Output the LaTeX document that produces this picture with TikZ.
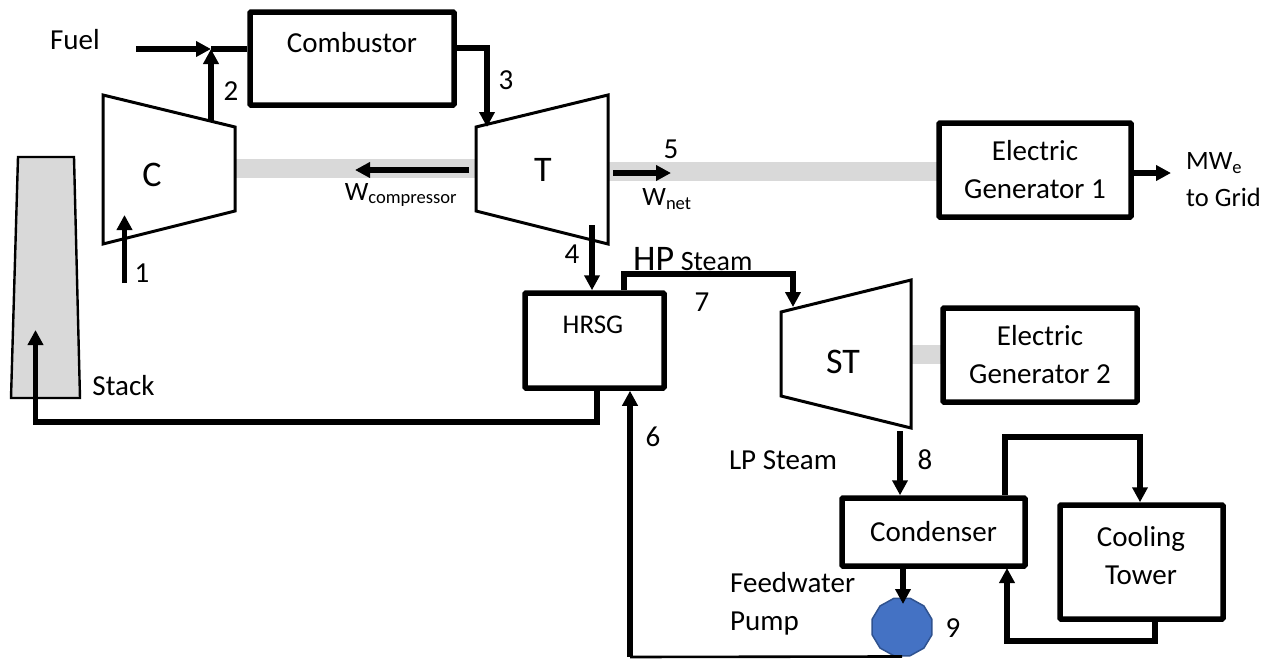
\documentclass[tikz,border=0pt]{standalone}
\usepackage{fontspec}
\setmainfont{Carlito}
\usetikzlibrary{arrows.meta,shapes.geometric}
\definecolor{shaftgray}{HTML}{D9D9D9}
\definecolor{pumpblue}{HTML}{4472C4}
\definecolor{pumpedge}{HTML}{2F528F}
\tikzset{
    unit/.style={
    rectangle,rounded corners=1pt,draw=black,line width=5.5pt,fill=white,align=center,inner sep=0pt,
    font=\fontsize{29}{38}\selectfont
    },
    machine/.style={
    draw=black,line width=3pt,fill=white,line join=miter
    },
    shaft/.style={
    draw=none,fill=shaftgray
    },
    flow/.style={
    draw=black,line width=5.4pt
    },
    lab/.style={
    inner sep=0pt,align=left,font=\fontsize{29}{38}\selectfont
    },
    sublab/.style={
    inner sep=0pt,font=\fontsize{26.5}{38}\selectfont
    },
    biglab/.style={
    inner sep=0pt,font=\fontsize{36}{40}\selectfont
    },
}
\begin{document}
\begin{tikzpicture}[x=1pt,y=-1pt,>={Triangle[length=15pt,width=15pt]}]
   \useasboundingbox (0,0) rectangle (1271,659);

   \fill[shaft] (235,159) rectangle (478,178);
   \fill[shaft] (608,162) rectangle (940,181);
   \fill[shaft] (911,345) rectangle (944,364);

   \draw[machine,fill=shaftgray,line width=2.4pt] (18,157) -- (74,157) -- (80,398) -- (11,398) -- cycle;
   \draw[machine] (103,95) -- (235,127) -- (235,211) -- (103,244) -- cycle;
   \draw[machine] (476,127) -- (608,95) -- (608,244) -- (476,211) -- cycle;
   \draw[machine] (781,312) -- (911,280) -- (911,428) -- (781,396) -- cycle;

   \node[unit,minimum width=204pt,minimum height=93pt] (cmb) at (352,58.5) {};
   \node[unit,minimum width=192pt,minimum height=94pt] (gen1) at (1035,170) {Electric\\Generator 1};
   \node[unit,minimum width=194pt,minimum height=94pt] (gen2) at (1040,355) {Electric\\Generator 2};
   \node[unit,minimum width=139pt,minimum height=95pt] (hrsg) at (594.5,340.5) {};
   \node[unit,minimum width=183pt,minimum height=68pt] (cnd) at (933.5,532) {Condenser};
   \node[unit,minimum width=163pt,minimum height=114pt] (twr) at (1141.5,562) {};
   \node[regular polygon,regular polygon sides=12,draw=pumpedge,line width=1.5pt,fill=pumpblue,
         minimum width=62pt,inner sep=0pt,yscale=0.96] (pmp) at (902,627) {};

   \coordinate (fuel) at (136,49);
   \coordinate (mix) at (211,49);
   \coordinate (c2) at (211,122);
   \coordinate (c3) at (487,127);
   \coordinate (c1) at (124.5,283);
   \coordinate (c1e) at (124.5,215);
   \coordinate (c4) at (592,225);
   \coordinate (wcs) at (469,170);
   \coordinate (wce) at (355,170);
   \coordinate (wns) at (613,173);
   \coordinate (wne) at (671,173);
   \coordinate (grid) at (1171,173);
   \coordinate (c7a) at (624,274);
   \coordinate (c7b) at (793,274);
   \coordinate (c7e) at (793,307);
   \coordinate (stka) at (597,422);
   \coordinate (stkb) at (35.5,422);
   \coordinate (stke) at (35.5,330);
   \coordinate (c8) at (900,431);
   \coordinate (twa) at (1005,437);
   \coordinate (twb) at (1140,437);
   \coordinate (twc) at (1155,641);
   \coordinate (twd) at (1007,641);
   \coordinate (twe) at (1007,568);
   \coordinate (c6a) at (630,657);

   \draw[flow] (mix) -- (cmb.west |- mix);
   \draw[flow,->] (fuel) -- (mix);
   \draw[flow,->] (c2) -- (mix);
   \draw[flow,->] (cmb.east |- 0,48) -| (c3);
   \draw[flow,->] (c1) -- (c1e);
   \draw[flow,->] (c4) -- (c4 |- hrsg.north);
   \draw[flow,->] (wcs) -- (wce);
   \draw[flow,->] (wns) -- (wne);
   \draw[flow,->] (gen1.east |- grid) -- (grid);
   \draw[flow,->] (hrsg.north -| c7a) -- (c7a) -- (c7b) -- (c7e);
   \draw[flow,->] (hrsg.south -| stka) -- (stka) -- (stkb) -- (stke);
   \draw[flow,->] (c8) -- (c8 |- cnd.north);
   \draw[flow,->] (cnd.north -| twa) -- (twa) -- (twb) -- (twb |- twr.north);
   \draw[flow,->] (twr.south -| twc) -- (twc) -- (twd) -- (twe);
   \draw[flow,->] (cnd.south -| 903,0) -- (903,604);
   \draw[flow,->] (c6a) -- (c6a |- hrsg.south);
   \draw[draw=black,line width=2.6pt] (c6a) -- (pmp.south);

   \node[lab] (fuellab) at (75,40) {Fuel};
   \node[lab] (cmblab) at (352,43) {Combustor};
   \node[lab] (s2) at (231,91) {2};
   \node[lab] (s3) at (506,80) {3};
   \node[lab] (s1) at (142,273) {1};
   \node[lab] (s4) at (572,254) {4};
   \node[lab] (s5) at (671,149) {5};
   \node[lab] (s7) at (702,302) {7};
   \node[lab] (s6) at (653,437) {6};
   \node[lab] (s8) at (925,460) {8};
   \node[lab] (s9) at (953,628) {9};
   \node[biglab] (clab) at (152,175) {C};
   \node[biglab] (tlab) at (543,170) {T};
   \node[biglab] (stlab) at (843,362) {ST};
   \node[sublab] (wclab) at (401,195) {W\textsubscript{compressor}};
   \node[sublab] (wnlab) at (667,199) {W\textsubscript{net}};
   \node[sublab,anchor=west] (mwlab) at (1186,163) {MW\textsubscript{e}};
   \node[sublab,anchor=west] (gridlab) at (1186,197) {to Grid};
   \node[lab,anchor=base west] (hplab) at (633,270) {{\fontsize{36}{38}\selectfont HP} {\fontsize{28}{38}\selectfont Steam}};
   \node[lab,font=\fontsize{27}{38}\selectfont] (hrsglab) at (593,325) {HRSG};
   \node[lab] (stacklab) at (123.5,386) {Stack};
   \node[lab] (lplab) at (783,460) {LP Steam};
   \node[lab,align=center] (twrlab) at (1141,556) {Cooling\\Tower};
   \node[lab,anchor=west] (fwlab) at (730,604) {Feedwater\\Pump};
\end{tikzpicture}
\end{document}
